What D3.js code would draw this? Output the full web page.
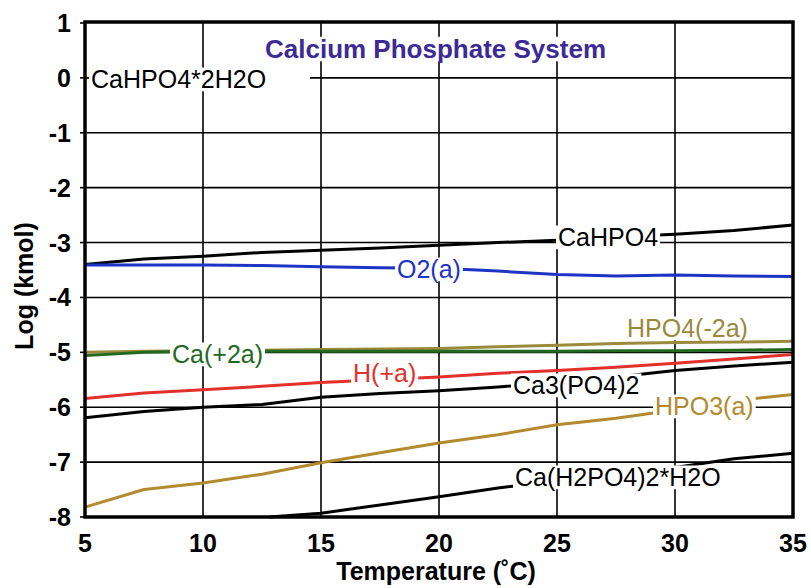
<!DOCTYPE html>
<html><head><meta charset="utf-8">
<script src="https://cdn.jsdelivr.net/npm/d3@7"></script>
<style>body{margin:0;background:#fff}svg{display:block;font-family:"Liberation Sans",Arial,sans-serif}</style>
</head><body>
<svg id="c" width="811" height="588"></svg>
<script>
const temps = [5,7.5,10,12.5,15,17.5,20,22.5,25,27.5,30,32.5,35];
const caHPO4 = [-3.40,-3.30,-3.25,-3.18,-3.14,-3.10,-3.05,-3.00,-2.96,-2.90,-2.85,-2.78,-2.68];
const o2a    = [-3.41,-3.41,-3.41,-3.42,-3.44,-3.46,-3.47,-3.52,-3.58,-3.61,-3.59,-3.61,-3.62];
const hpo4   = [-5.00,-4.98,-4.97,-4.96,-4.95,-4.94,-4.93,-4.90,-4.87,-4.84,-4.82,-4.81,-4.80];
const ca2a   = [-5.06,-5.00,-4.98,-4.98,-4.98,-4.98,-4.98,-4.98,-4.98,-4.97,-4.97,-4.96,-4.95];
const hPlus  = [-5.84,-5.74,-5.68,-5.62,-5.55,-5.50,-5.45,-5.38,-5.33,-5.27,-5.20,-5.12,-5.04];
const ca3po4 = [-6.19,-6.08,-6.00,-5.95,-5.82,-5.75,-5.70,-5.63,-5.55,-5.45,-5.33,-5.25,-5.18];
const hpo3   = [-7.82,-7.50,-7.38,-7.22,-7.01,-6.83,-6.65,-6.50,-6.32,-6.20,-6.05,-5.88,-5.77];
const tempsCaH2PO4 = [12.8,15,17.5,20,22.5,25,27.5,30,32.5,35];
const caH2PO4 = [-8.00,-7.93,-7.78,-7.63,-7.47,-7.35,-7.22,-7.10,-6.94,-6.84];
const xTicks = [5,10,15,20,25,30,35];
const yTicks = [1,0,-1,-2,-3,-4,-5,-6,-7,-8];

const seriesNames = ["CaHPO4","O2(a)","HPO4(-2a)","Ca(+2a)","H(+a)","Ca3(PO4)2","HPO3(a)","Ca(H2PO4)2*H2O"];
const seriesColors = ["#000000","#1e34c4","#9a8a3c","#22691f","#e3302a","#000000","#b38a2e","#000000"];

const svg = d3.select("#c");
const L=85,R=793,T=22,B=517;
const x = d3.scaleLinear().domain([5,35]).range([L,R]);
const y = d3.scaleLinear().domain([-8,1]).range([B,T+1]);

const series = [
  {t:temps,v:caHPO4},{t:temps,v:o2a},{t:temps,v:hpo4},{t:temps,v:ca2a},
  {t:temps,v:hPlus},{t:temps,v:ca3po4},{t:temps,v:hpo3},{t:tempsCaH2PO4,v:caH2PO4}
].map((s,i)=>({name:seriesNames[i],color:seriesColors[i],pts:s.t.map((t,j)=>[t,s.v[j]])}));

// grid
const g = svg.append("g");
g.selectAll("line.gx").data(xTicks.slice(1,-1)).join("line")
 .attr("x1",d=>x(d)).attr("x2",d=>x(d)).attr("y1",T).attr("y2",B)
 .attr("stroke","#000").attr("stroke-width",1.6);
g.selectAll("line.gy").data(yTicks.slice(1,-1)).join("line")
 .attr("x1",L).attr("x2",R).attr("y1",d=>y(d)).attr("y2",d=>y(d))
 .attr("stroke","#000").attr("stroke-width",1.6);
// outward y ticks
g.selectAll("line.ty").data(yTicks).join("line")
 .attr("x1",L-5).attr("x2",L).attr("y1",d=>y(d)).attr("y2",d=>y(d))
 .attr("stroke","#000").attr("stroke-width",1.6);

// lines
const line = d3.line().x(d=>x(d[0])).y(d=>y(d[1]));
svg.append("g").selectAll("path").data(series).join("path")
 .attr("d",d=>line(d.pts)).attr("fill","none")
 .attr("stroke",d=>d.color).attr("stroke-width",3).attr("stroke-linejoin","round");

// frame
svg.append("rect").attr("x",L).attr("y",T).attr("width",R-L).attr("height",B-T)
 .attr("fill","none").attr("stroke","#000").attr("stroke-width",3.5);

// labels with white backgrounds
const labels = [
 {text:"Calcium Phosphate System",x:265,y:58,color:"#3c2a96",size:26,weight:"bold",padR:2},
 {text:"CaHPO4*2H2O",x:91,y:88,color:"#000",size:25,weight:"normal",extendTo:310},
 {text:seriesNames[0],x:558,y:246,color:seriesColors[0],size:25,weight:"normal"},
 {text:seriesNames[1],x:397,y:278,color:seriesColors[1],size:25,weight:"normal"},
 {text:seriesNames[2],x:627,y:337,color:seriesColors[2],size:25,weight:"normal"},
 {text:seriesNames[3],x:172,y:363,color:seriesColors[3],size:25,weight:"normal"},
 {text:seriesNames[4],x:353,y:382,color:seriesColors[4],size:25,weight:"normal"},
 {text:seriesNames[5],x:513,y:394,color:seriesColors[5],size:25,weight:"normal"},
 {text:seriesNames[6],x:655,y:415,color:seriesColors[6],size:25,weight:"normal"},
 {text:seriesNames[7],x:515,y:486,color:seriesColors[7],size:25,weight:"normal"}
];
const lg = svg.append("g");
labels.forEach(l=>{
  const bg = lg.append("rect").attr("fill","#fff");
  const t = lg.append("text").attr("x",l.x).attr("y",l.y).attr("fill",l.color)
    .attr("font-size",l.size).attr("font-weight",l.weight).text(l.text);
  const bb = t.node().getBBox();
  const cap = l.size*0.74;
  const x0 = bb.x-2, x1 = l.extendTo ? l.extendTo : bb.x+bb.width+2;
  bg.attr("x",x0).attr("y",l.y-cap-2).attr("width",x1-x0).attr("height",cap+4+l.size*0.05);
});

// tick labels
svg.append("g").selectAll("text").data(yTicks).join("text")
 .attr("x",71).attr("y",d=>y(d)+9).attr("text-anchor","end")
 .attr("font-size",25).attr("font-weight","bold").text(d=>d);
svg.append("g").selectAll("text").data(xTicks).join("text")
 .attr("x",d=>x(d)).attr("y",552).attr("text-anchor","middle")
 .attr("font-size",25).attr("font-weight","bold").text(d=>d);

// axis titles
svg.append("text").attr("x",436).attr("y",580).attr("text-anchor","middle")
 .attr("font-size",25).attr("font-weight","bold").text("Temperature (˚C)");
svg.append("text").attr("transform","translate(33,286) rotate(-90)").attr("text-anchor","middle")
 .attr("font-size",25).attr("font-weight","bold").text("Log (kmol)");
</script>
</body></html>
